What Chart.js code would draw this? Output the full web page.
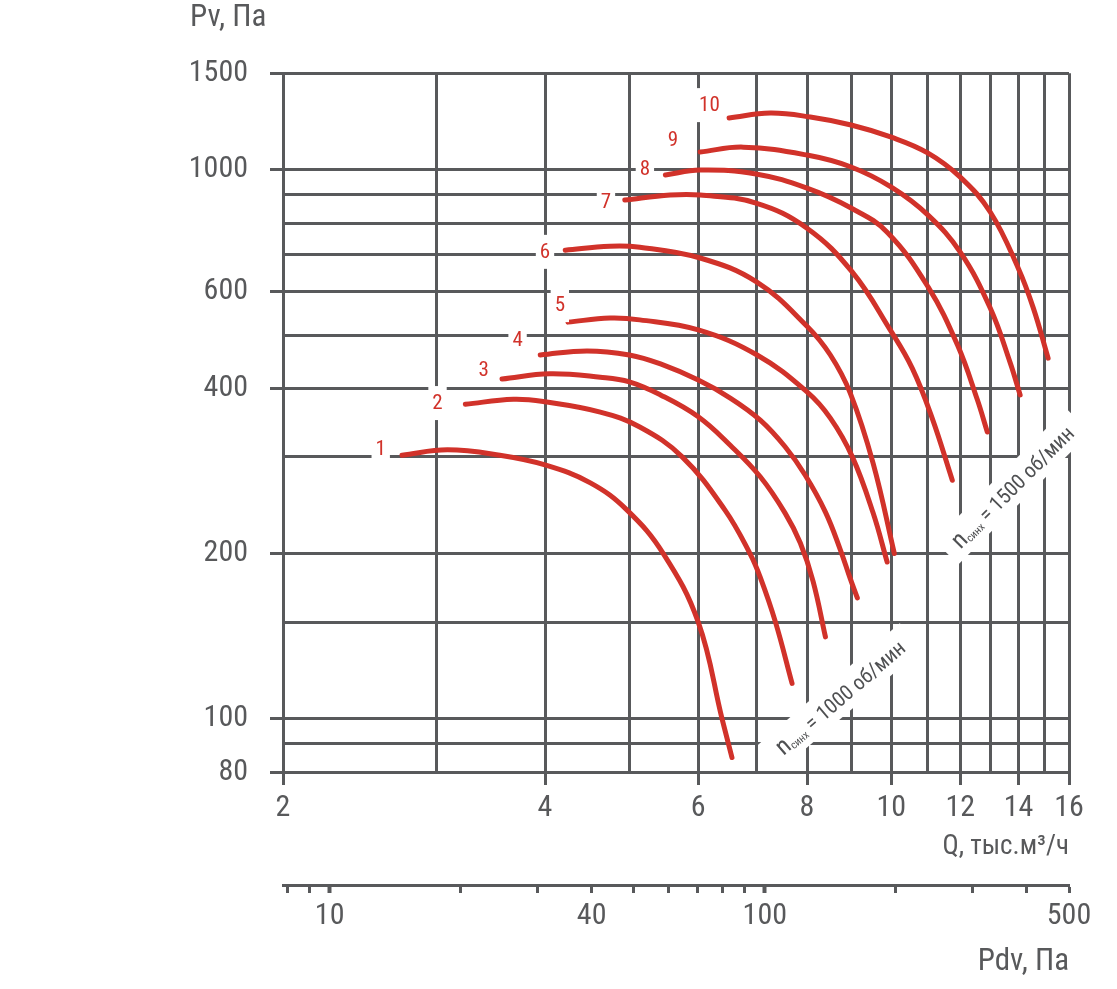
<!DOCTYPE html>
<html>
<head>
<meta charset="utf-8">
<script src="https://cdn.jsdelivr.net/npm/chart.js@4.4.1/dist/chart.umd.min.js"></script>
<style>
  html, body { margin: 0; padding: 0; background: #fff; }
</style>
</head>
<body>
<canvas id="myChart" width="1117" height="989"></canvas>
<script>
// curves 1..10, Q in тыс.м3/ч and Pv in Па
let q1 = [2.74, 3.09, 3.55, 4.0, 4.51, 4.97, 5.47, 6.0, 6.39, 6.56];
let p1 = [302, 309, 302, 290, 269, 240, 200, 150, 100, 85];
let q2 = [3.24, 3.68, 4.0, 4.63, 5.14, 5.75, 6.44, 6.88, 7.07, 7.36, 7.69];
let p2 = [374, 382, 378, 362, 340, 300, 240, 200, 181, 150, 116];
let q3 = [3.57, 4.05, 4.63, 5.0, 5.43, 6.0, 6.53, 7.07, 7.55, 7.86, 8.13, 8.40];
let p3 = [416, 425, 419, 411, 389, 355, 315, 276, 237, 209, 178, 141];
let q4 = [3.95, 4.47, 5.0, 5.43, 6.0, 6.53, 7.07, 7.55, 7.96, 8.40, 8.74, 8.97, 9.14];
let p4 = [460, 468, 460, 443, 414, 384, 350, 313, 278, 238, 203, 180, 166];
let q5 = [4.25, 4.75, 5.14, 6.0, 7.01, 8.0, 8.51, 9.02, 9.53, 9.89];
let p5 = [528, 537, 533, 511, 460, 394, 353, 300, 237, 193];
let q6 = [4.22, 4.75, 5.14, 6.03, 7.0, 8.0, 8.51, 8.97, 9.53, 10.08];
let p6 = [714, 726, 723, 691, 625, 519, 460, 392, 292, 200];
let q7 = [4.94, 5.57, 6.03, 6.99, 8.0, 9.02, 9.97, 10.57, 11.14, 11.75];
let p7 = [881, 900, 900, 870, 783, 651, 511, 435, 353, 272];
let q8 = [5.50, 6.03, 6.99, 8.0, 8.99, 9.89, 11.02, 11.91, 12.55, 12.89];
let p8 = [979, 999, 983, 926, 852, 770, 612, 480, 382, 333];
let q9 = [6.03, 6.76, 8.0, 8.99, 10.0, 11.02, 12.0, 12.99, 13.69, 14.06];
let p9 = [1078, 1100, 1064, 1012, 930, 827, 708, 560, 446, 389];
let q10 = [6.51, 7.26, 8.07, 8.99, 10.0, 11.02, 12.0, 12.99, 13.99, 14.56, 15.14];
let p10 = [1243, 1269, 1248, 1207, 1147, 1073, 970, 838, 662, 560, 454];

// axes
let xTicks = [2, 3, 4, 5, 6, 7, 8, 9, 10, 11, 12, 13, 14, 15, 16];
let xLabels = [2, 4, 6, 8, 10, 12, 14, 16];
let yTicks = [80, 90, 100, 150, 200, 300, 400, 500, 600, 700, 800, 900, 1000, 1500];
let yLabels = [80, 100, 200, 400, 600, 1000, 1500];
let pdvTicks = [8, 9, 10, 20, 30, 40, 50, 60, 70, 80, 90, 100, 200, 300, 400, 500];
let pdvLabels = [10, 40, 100, 500];

// curve numbers (where the little boxes sit)
let tagQ = [2.59, 3.01, 3.40, 3.72, 4.16, 4.0, 4.70, 5.21, 5.61, 6.18];
let tagP = [310, 376, 432, 490, 567, 709, 873, 1003, 1134, 1312];

// speed notes
let speedText = ['1000', '1500'];
let speedQ = [8.73, 13.77];
let speedP = [109.6, 265];

const grey = '#58595b';
const red = '#d1322a';
const fam = "'Liberation Sans Narrow', 'Roboto Condensed', 'DejaVu Sans Condensed', sans-serif";
Chart.defaults.font.family = fam;
Chart.defaults.color = grey;

let qs = [q1, q2, q3, q4, q5, q6, q7, q8, q9, q10];
let ps = [p1, p2, p3, p4, p5, p6, p7, p8, p9, p10];
let datasets = qs.map((q, i) => ({
  label: String(i + 1),
  data: q.map((v, j) => ({x: v, y: ps[i][j]})),
  borderColor: red,
  borderWidth: 5,
  borderCapStyle: 'round',
  borderJoinStyle: 'round',
  pointRadius: 0,
  tension: 0.4,
  fill: false,
  xAxisID: 'x',
  yAxisID: 'y'
}));

const notes = {
  id: 'notes',
  afterDatasetsDraw(chart) {
    const ctx = chart.ctx;
    const x = chart.scales.x, y = chart.scales.y;
    ctx.save();
    // curve numbers
    ctx.font = '21px ' + fam;
    ctx.textAlign = 'center';
    ctx.textBaseline = 'middle';
    for (let i = 0; i < tagQ.length; i++) {
      let px = x.getPixelForValue(tagQ[i]);
      let py = y.getPixelForValue(tagP[i]);
      let s = String(i + 1);
      let w = ctx.measureText(s).width + 8;
      ctx.fillStyle = '#fff';
      ctx.fillRect(px - w / 2, py - 17, w, 34);
      ctx.fillStyle = red;
      ctx.fillText(s, px, py + 1);
    }
    // n синх = ... об/мин, tilted
    let angles = [-40.6, -45];
    for (let i = 0; i < speedText.length; i++) {
      let px = x.getPixelForValue(speedQ[i]);
      let py = y.getPixelForValue(speedP[i]);
      ctx.save();
      ctx.translate(px, py);
      ctx.rotate(angles[i] * Math.PI / 180);
      let f1 = '25px ' + fam, f2 = '11px ' + fam, f3 = '21px ' + fam;
      let rest = ' = ' + speedText[i] + ' об/мин';
      ctx.font = f1; let w1 = ctx.measureText('n').width;
      ctx.font = f2; let w2 = ctx.measureText('синх').width;
      ctx.font = f3; let w3 = ctx.measureText(rest).width;
      let W = w1 + w2 + w3;
      ctx.fillStyle = '#fff';
      ctx.fillRect(-W / 2 - 12, -17, W + 24, 34);
      ctx.fillStyle = '#4f5052';
      ctx.textAlign = 'left';
      ctx.textBaseline = 'alphabetic';
      let sx = -W / 2;
      ctx.font = f1; ctx.fillText('n', sx, 8);
      ctx.font = f2; ctx.fillText('синх', sx + w1, 10);
      ctx.font = f3; ctx.fillText(rest, sx + w1 + w2, 8);
      ctx.restore();
    }
    ctx.restore();
  }
};

let ctx = document.getElementById('myChart').getContext('2d');
let myChart = new Chart(ctx, {
  type: 'line',
  data: { datasets: datasets },
  options: {
    responsive: false,
    animation: false,
    layout: { padding: { left: 190, right: 48, top: 0, bottom: 0 } },
    plugins: {
      legend: { display: false },
      tooltip: { enabled: false },
      title: {
        display: true,
        text: 'Pv, Па',
        align: 'start',
        color: grey,
        font: { size: 31, weight: 'normal' },
        padding: { top: 0, bottom: 36 }
      }
    },
    scales: {
      x: {
        type: 'logarithmic',
        position: 'bottom',
        weight: 0,
        min: 2,
        max: 16,
        afterBuildTicks: s => { s.ticks = xTicks.map(v => ({value: v})); },
        afterFit: s => { s.height = 113; },
        ticks: {
          autoSkip: false, maxRotation: 0, minRotation: 0,
          padding: 5,
          font: { size: 30 },
          color: grey,
          callback: v => xLabels.includes(v) ? String(v) : ''
        },
        grid: {
          color: grey,
          lineWidth: 3,
          tickLength: 13,
          tickColor: c => xLabels.includes(c.tick.value) ? grey : 'rgba(0,0,0,0)'
        },
        border: { display: false },
        title: {
          display: true,
          text: 'Q, тыс.м³/ч',
          align: 'end',
          color: grey,
          font: { size: 27 },
          padding: { top: 0, bottom: 22 }
        }
      },
      pdv: {
        type: 'logarithmic',
        position: 'bottom',
        weight: 1,
        min: 7.8125,
        max: 500,
        afterBuildTicks: s => { s.ticks = pdvTicks.map(v => ({value: v})); },
        afterFit: s => { s.height = 104; },
        ticks: {
          autoSkip: false, maxRotation: 0, minRotation: 0,
          padding: 5,
          font: { size: 30 },
          color: grey,
          callback: v => pdvLabels.includes(v) ? String(v) : ''
        },
        grid: {
          drawOnChartArea: false,
          tickLength: 8,
          tickColor: grey,
          tickWidth: c => (c.tick.value === 10 || c.tick.value === 100) ? 4 : 3
        },
        border: { display: true, color: grey, width: 3 },
        title: {
          display: true,
          text: 'Pdv, Па',
          align: 'end',
          color: grey,
          font: { size: 31, weight: 'normal' },
          padding: { top: 0, bottom: 8 }
        }
      },
      y: {
        type: 'logarithmic',
        position: 'left',
        min: 80,
        max: 1500,
        afterBuildTicks: s => { s.ticks = yTicks.map(v => ({value: v})); },
        afterFit: s => { s.width = 93; },
        ticks: {
          autoSkip: false,
          padding: 22,
          font: { size: 30 },
          color: grey,
          callback: v => yLabels.includes(v) ? String(v) : ''
        },
        grid: {
          color: grey,
          lineWidth: 3,
          tickLength: 13,
          tickColor: c => yLabels.includes(c.tick.value) ? grey : 'rgba(0,0,0,0)'
        },
        border: { display: false }
      }
    }
  },
  plugins: [notes]
});
</script>
</body>
</html>
